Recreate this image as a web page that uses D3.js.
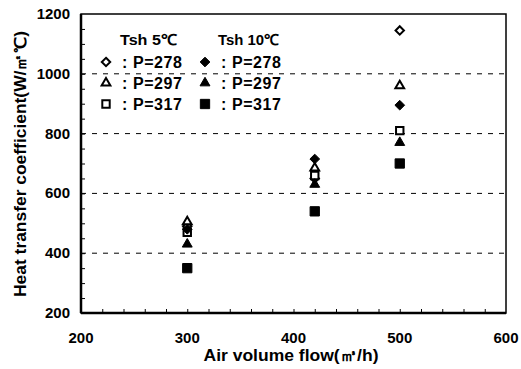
<!DOCTYPE html>
<html>
<head>
<meta charset="utf-8">
<script src="https://cdn.jsdelivr.net/npm/d3@7"></script>
<style>
  body { margin: 0; background: #fff; }
  text { font-family: "Liberation Sans", Arial, sans-serif; font-weight: bold; fill: #000; }
</style>
</head>
<body>
<div id="chart"></div>
<script>
  const flows = [300, 420, 500];
  const open278 = [490, 650, 1145];
  const open297 = [505, 685, 960];
  const open317 = [470, 660, 810];
  const fill278 = [480, 715, 895];
  const fill297 = [430, 630, 770];
  const fill317 = [350, 540, 700];
  const xTicks = [200, 300, 400, 500, 600];
  const yTicks = [200, 400, 600, 800, 1000, 1200];
  const gridValues = [400, 600, 800, 1000];
  const legendLabels = [": P=278", ": P=297", ": P=317"];

  const W = 521, H = 369;
  const margin = {top: 14, right: 15, bottom: 56, left: 81};
  const width = W - margin.left - margin.right;
  const height = H - margin.top - margin.bottom;

  const svg = d3.select("#chart").append("svg")
    .attr("width", W)
    .attr("height", H);

  const g = svg.append("g")
    .attr("transform", "translate(" + margin.left + "," + margin.top + ")");

  const x = d3.scaleLinear().domain([200, 600]).range([0, width]);
  const y = d3.scaleLinear().domain([200, 1200]).range([height, 0]);

  // dashed gridlines
  g.selectAll("line.grid")
    .data(gridValues)
    .enter().append("line")
    .attr("class", "grid")
    .attr("x1", 0).attr("x2", width)
    .attr("y1", d => y(d)).attr("y2", d => y(d))
    .attr("stroke", "#000")
    .attr("stroke-width", 1)
    .attr("stroke-dasharray", "5,6");

  // minor ticks, pointing inward
  g.append("g")
    .attr("transform", "translate(0," + height + ")")
    .call(d3.axisTop(x).tickValues(d3.range(220, 600, 20)).tickSize(4).tickFormat(""))
    .call(a => a.select(".domain").remove());
  g.append("g")
    .call(d3.axisRight(y).tickValues(d3.range(250, 1200, 50)).tickSize(4).tickFormat(""))
    .call(a => a.select(".domain").remove());

  // frame
  g.append("rect")
    .attr("width", width).attr("height", height)
    .attr("fill", "none").attr("stroke", "#000").attr("stroke-width", 1.5);
  g.append("line")
    .attr("x1", 0).attr("x2", width).attr("y1", height).attr("y2", height)
    .attr("stroke", "#000").attr("stroke-width", 2.5);
  g.append("line")
    .attr("x1", 0).attr("x2", 0).attr("y1", 0).attr("y2", height)
    .attr("stroke", "#000").attr("stroke-width", 2.5);

  // tick labels
  g.selectAll("text.xt")
    .data(xTicks)
    .enter().append("text")
    .attr("x", d => x(d)).attr("y", height + 30)
    .attr("text-anchor", "middle")
    .attr("font-size", 15)
    .text(d => d);

  g.selectAll("text.yt")
    .data(yTicks)
    .enter().append("text")
    .attr("x", -11).attr("y", d => y(d) + 5)
    .attr("text-anchor", "end")
    .attr("font-size", 15)
    .text(d => d);

  // axis titles
  svg.append("text")
    .attr("x", 291).attr("y", 361)
    .attr("text-anchor", "middle")
    .attr("font-size", 16)
    .attr("textLength", 175).attr("lengthAdjust", "spacingAndGlyphs")
    .text("Air volume flow(㎥/h)");

  svg.append("text")
    .attr("transform", "translate(26,164) rotate(-90)")
    .attr("text-anchor", "middle")
    .attr("font-size", 16)
    .attr("textLength", 266).attr("lengthAdjust", "spacingAndGlyphs")
    .text("Heat transfer coefficient(W/㎡℃)");

  // series
  const series = [
    {values: open278, type: d3.symbolDiamond2, fill: false, size: 45},
    {values: open297, type: d3.symbolTriangle2, fill: false, size: 55},
    {values: open317, type: d3.symbolSquare2, fill: false, size: 70},
    {values: fill278, type: d3.symbolDiamond2, fill: true, size: 60},
    {values: fill297, type: d3.symbolTriangle2, fill: true, size: 70},
    {values: fill317, type: d3.symbolSquare2, fill: true, size: 110}
  ];

  series.forEach(function (s) {
    g.selectAll(null)
      .data(s.values)
      .enter().append("path")
      .attr("transform", (d, i) => "translate(" + x(flows[i]) + "," + y(d) + ")")
      .attr("d", d3.symbol().type(s.type).size(s.size))
      .attr("fill", s.fill ? "#000" : "#fff")
      .attr("stroke", "#000")
      .attr("stroke-width", s.fill ? 1 : 2);
  });

  // legend
  const legend = svg.append("g");
  legend.append("text").attr("x", 120).attr("y", 45).attr("font-size", 15)
    .attr("textLength", 57).attr("lengthAdjust", "spacingAndGlyphs").text("Tsh 5℃");
  legend.append("text").attr("x", 218).attr("y", 45).attr("font-size", 15)
    .attr("textLength", 61).attr("lengthAdjust", "spacingAndGlyphs").text("Tsh 10℃");
  series.forEach(function (s, i) {
    const col = i < 3 ? 0 : 1;
    const row = i % 3;
    const cx = col === 0 ? 106 : 205;
    const cy = 62 + row * 21;
    legend.append("path")
      .attr("transform", "translate(" + cx + "," + cy + ")")
      .attr("d", d3.symbol().type(s.type).size(s.size))
      .attr("fill", s.fill ? "#000" : "#fff")
      .attr("stroke", "#000")
      .attr("stroke-width", s.fill ? 1 : 2);
    legend.append("text")
      .attr("x", cx + 16).attr("y", cy + 6)
      .attr("font-size", 16)
      .attr("textLength", 60).attr("lengthAdjust", "spacing")
      .text(legendLabels[row]);
  });
</script>
</body>
</html>
